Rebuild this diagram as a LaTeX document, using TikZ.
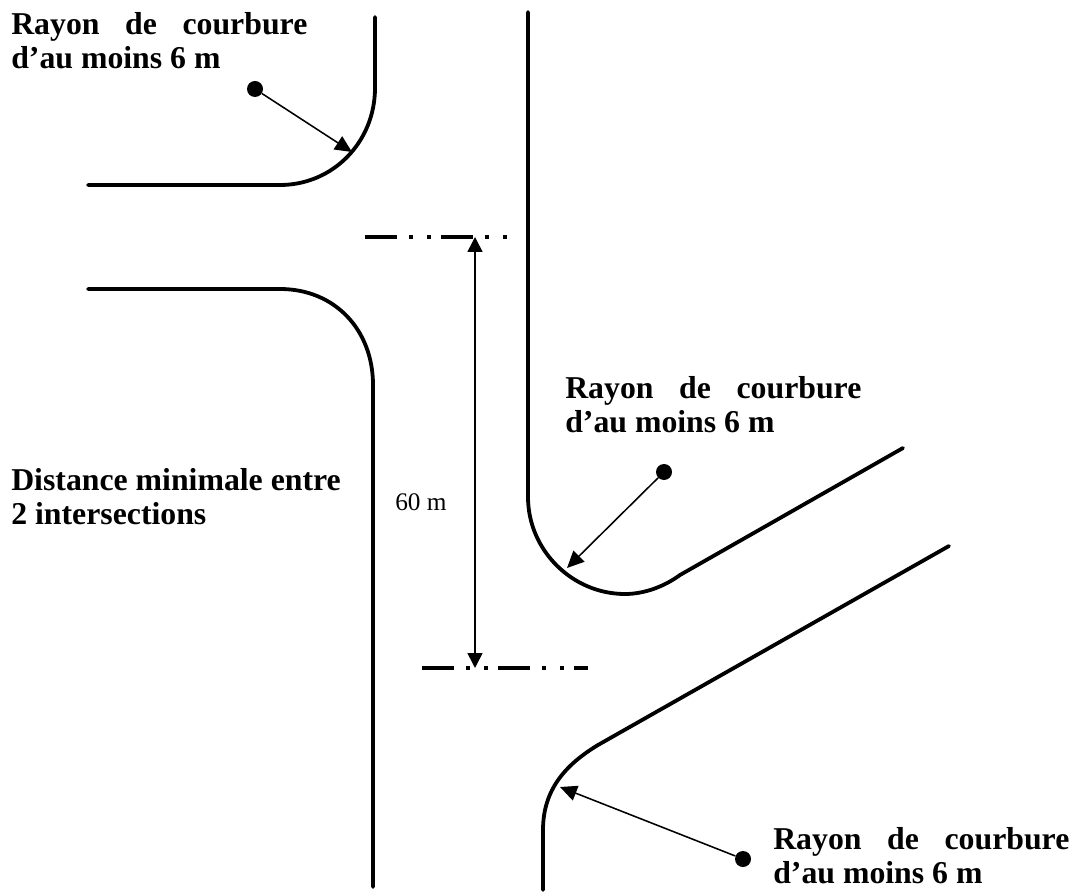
\documentclass[tikz,border=0pt]{standalone}
\usepackage{fontspec}
\usepackage{tikz}
\setmainfont{Liberation Serif}
\usetikzlibrary{arrows.meta}
\newcommand{\rayontext}{\makebox[7.4cm][s]{Rayon de courbure}\\d’au moins 6 m}

\begin{document}
\begin{tikzpicture}[x=0.025cm,y=-0.025cm]
	\tikzstyle{road}=[line width=2.7pt,line cap=round]
	\tikzstyle{limit}=[line width=2.7pt,dash pattern=on 0.8cm off 0.3cm on 0.1cm off 0.35cm on 0.1cm off 0.25cm]
	\tikzstyle{pointer}=[line width=1.1pt,-{Triangle[length=12pt,width=11pt]}]
	\tikzstyle{label}=[font=\bfseries\fontsize{22.6}{24.5}\selectfont,align=left,anchor=north west,inner sep=0pt]
	\tikzstyle{centre}=[circle,fill,inner sep=0pt,minimum size=0.4cm]
	\useasboundingbox (0,0) rectangle (1073,892);
	\fill[white] (0,0) rectangle (1073,892);
	% roads
	\draw[road] (375,17) -- (375,88) .. controls (375,142) and (333,185) .. (280,185) -- (88,185);
	\draw[road] (88,289) -- (280,289) .. controls (335,289) and (373,330) .. (373,385) -- (373,887);
	\draw[road] (528,12) -- (528,497) .. controls (528,550) and (572,594) .. (625,594) .. controls (645,594) and (665,586) .. (680,575) -- (903,448);
	\draw[road] (949,546) -- (598,745) .. controls (565,765) and (543,790) .. (543,830) -- (543,890);
	% limits
	\coordinate (T_1) at (365,237);
	\coordinate (T_2) at (507,237);
	\coordinate (B_1) at (422,668);
	\coordinate (B_2) at (588,668);
	\coordinate (T_0) at (475,237);
	\coordinate (B_0) at (475,668);
	\draw[limit] (T_1) -- (T_2);
	\draw[limit] (B_1) -- (B_2);
	\draw[line width=1.1pt,{Triangle[length=10.5pt,width=10.5pt]}-{Triangle[length=10.5pt,width=10.5pt]}] (T_0) -- (B_0);
	% radius pointers
	\node[centre] (C_1) at (255,89) {};
	\node[centre] (C_2) at (664,472) {};
	\node[centre] (C_3) at (743,859) {};
	\coordinate (R_1) at (352,152);
	\coordinate (R_2) at (567,568);
	\coordinate (R_3) at (560,787);
	\draw[pointer] (C_1) -- (R_1);
	\draw[pointer] (C_2) -- (R_2);
	\draw[pointer] (C_3) -- (R_3);
	% texts
	\node[label] (L_1) at (11,12) {\rayontext};
	\node[label] (L_2) at (565,376) {\rayontext};
	\node[label] (L_3) at (773,827) {\rayontext};
	\node[label] (L_4) at (11,468) {Distance minimale entre\\2 intersections};
	\node[inner sep=0pt,font=\fontsize{18}{20}\selectfont] (L_5) at (421,502) {60 m};
\end{tikzpicture}
\end{document}
